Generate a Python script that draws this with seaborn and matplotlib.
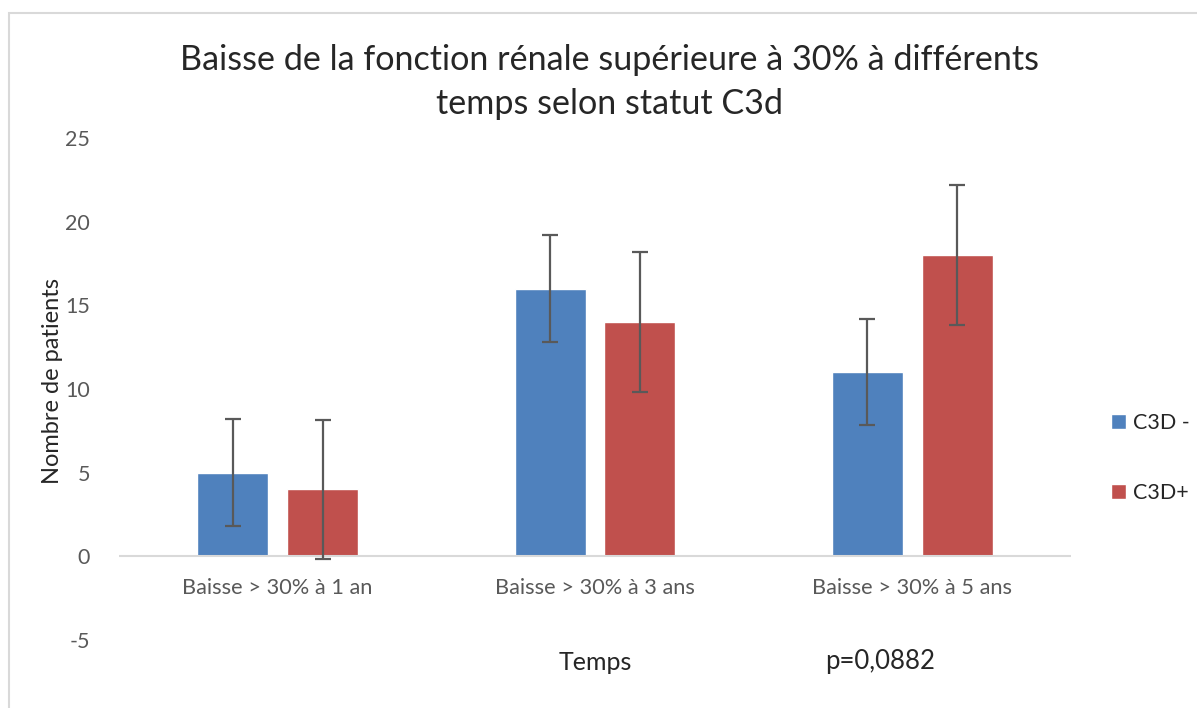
import matplotlib
matplotlib.use("Agg")
import matplotlib.pyplot as plt
from matplotlib.patches import Rectangle
import seaborn as sns
import pandas as pd

# Data
categories = ["Baisse > 30% à 1 an", "Baisse > 30% à 3 ans", "Baisse > 30% à 5 ans"]
groups = ["C3D -", "C3D+"]
c3d_neg = [5, 16, 11]
c3d_pos = [4, 14, 18]
err_neg = [3.18, 3.18, 3.18]
err_pos = [4.17, 4.17, 4.17]

colors = ["#4F81BD", "#C0504D"]

sns.set_theme(style="white")
plt.rcParams["font.family"] = ["Lato", "DejaVu Sans"]
plt.rcParams["axes.unicode_minus"] = False

df = pd.DataFrame({
    "Temps": categories * 2,
    "Statut": [groups[0]] * 3 + [groups[1]] * 3,
    "Patients": c3d_neg + c3d_pos,
})

fig = plt.figure(figsize=(11.97, 7.08), dpi=100)
ax = fig.add_axes([119 / 1197, 68 / 708, 952 / 1197, 502 / 708])

sns.barplot(data=df, x="Temps", y="Patients", hue="Statut", order=categories,
            hue_order=groups, palette=colors, width=0.567, gap=0.211,
            errorbar=None, saturation=1, ax=ax)

# Error bars centred on each bar
for cont, errs in zip(ax.containers, [err_neg, err_pos]):
    for bar, e in zip(cont, errs):
        xc = bar.get_x() + bar.get_width() / 2
        ax.errorbar(xc, bar.get_height(), yerr=e, fmt="none", ecolor="#595959",
                    elinewidth=1.6, capsize=5.5, capthick=1.6, zorder=5)

ax.set_xlim(-0.5, 2.5)
ax.set_ylim(-5, 25)
ax.set_yticks([-5, 0, 5, 10, 15, 20, 25])
ax.axhline(0, color="#D9D9D9", lw=1.5, zorder=1)
for s in ax.spines.values():
    s.set_visible(False)
ax.tick_params(axis="both", length=0, colors="#595959", labelsize=15.5)
ax.tick_params(axis="y", pad=21)
ax.set_xlabel("")
ax.set_ylabel("Nombre de patients", fontsize=17, color="#262626")
ax.yaxis.set_label_coords((63 - 119) / 952, 0.5 + (8 / 502))

# X tick labels sit just below the zero line
ax.set_xticks(range(len(categories)))
ax.set_xticklabels([])
for i, c in enumerate(categories):
    ax.text(i, -1.9, c, ha="center", va="center", fontsize=15.7, color="#595959")

ax.get_legend().remove()
handles = [ax.containers[0][0], ax.containers[1][0]]
fig.legend(handles, groups, loc="center left", bbox_to_anchor=(1092 / 1197, 1 - 458 / 708),
           frameon=False, fontsize=15.5, handlelength=0.7, handleheight=0.7,
           handletextpad=0.3, labelspacing=2.3, labelcolor="#262626")

fig.text(609 / 1197, 1 - 82 / 708,
         "Baisse de la fonction rénale supérieure à 30% à différents\ntemps selon statut C3d",
         ha="center", va="center", fontsize=24.6, color="#262626", linespacing=1.5)
fig.text(595 / 1197, 1 - 662 / 708, "Temps", ha="center", va="center",
         fontsize=18, color="#262626")
fig.text(880 / 1197, 1 - 662 / 708, "p=0,0882", ha="center", va="center",
         fontsize=18.5, color="#262626")

# Chart frame
fig.patches.append(Rectangle((9 / 1197, -0.1), 1.2, 1 - 13 / 708 + 0.1,
                             transform=fig.transFigure, fill=False,
                             edgecolor="#D9D9D9", lw=1.5))

fig.savefig("out.png", dpi=100)
